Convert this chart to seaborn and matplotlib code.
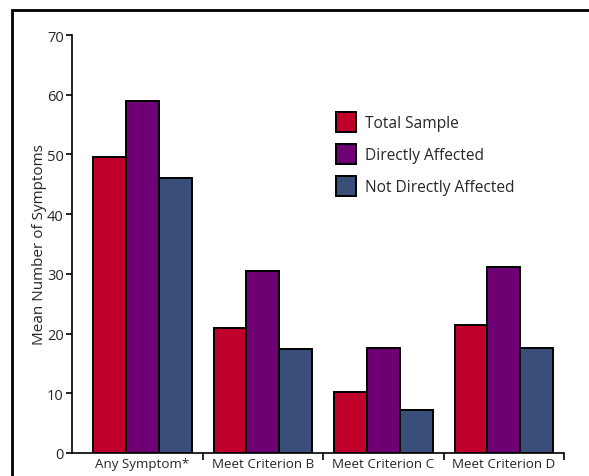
import matplotlib
matplotlib.use("Agg")
import matplotlib.pyplot as plt
import seaborn as sns
import pandas as pd
from matplotlib.patches import Rectangle, Patch

categories = ["Any Symptom*", "Meet Criterion B", "Meet Criterion C", "Meet Criterion D"]
groups = ["Total Sample", "Directly Affected", "Not Directly Affected"]
total_sample = [49.5, 20.9, 10.2, 21.4]
directly_affected = [58.9, 30.4, 17.6, 31.2]
not_directly_affected = [46.1, 17.4, 7.2, 17.6]
y_ticks = [0, 10, 20, 30, 40, 50, 60, 70]

colors = ["#C0002A", "#6E0074", "#3A4E7A"]

rows = []
for g, vals in zip(groups, [total_sample, directly_affected, not_directly_affected]):
    for c, v in zip(categories, vals):
        rows.append({"category": c, "group": g, "value": v})
df = pd.DataFrame(rows)

sns.set_style("white")
plt.rcParams["font.family"] = ["Open Sans", "DejaVu Sans"]

fig = plt.figure(figsize=(5.89, 4.77), dpi=100)
ax = fig.add_axes([72 / 589, 23 / 477, 492 / 589, 418 / 477])

sns.barplot(data=df, x="category", y="value", hue="group", order=categories,
            hue_order=groups, palette=colors, width=0.817, gap=0,
            edgecolor="black", linewidth=1.4, saturation=1, ax=ax, legend=False)

ax.set_xlim(-0.585, 3.5)
ax.set_ylim(0, 70)
ax.set_yticks(y_ticks)
ax.tick_params(axis="y", direction="out", length=4, width=1.2, color="black",
               labelsize=10.5, pad=2, left=True)
ax.set_xticks(range(len(categories)))
ax.set_xticklabels(categories, fontsize=9.6)
ax.tick_params(axis="x", which="major", length=0, pad=3)
ax.set_xticks([0.5, 1.5, 2.5, 3.5], minor=True)
ax.tick_params(axis="x", which="minor", direction="out", length=5, width=1.2,
               color="black", bottom=True)
ax.set_xlabel("")
ax.set_ylabel("Mean Number of Symptoms", fontsize=11, labelpad=0)

for side in ["top", "right"]:
    ax.spines[side].set_visible(False)
for side in ["left", "bottom"]:
    ax.spines[side].set_color("black")
    ax.spines[side].set_linewidth(1.2)

handles = [Patch(facecolor=c, edgecolor="black", linewidth=1.4) for c in colors]
ax.legend(handles, groups, loc="upper left", bbox_to_anchor=(0.537, 0.815),
          frameon=False, fontsize=11.2, handlelength=1.3, handleheight=1.55,
          labelspacing=0.8, handletextpad=0.55, borderpad=0, borderaxespad=0)

# outer frame around the figure
fig.patches.append(Rectangle((12 / 589, -0.2), 1.2, 1 - 11 / 477 + 0.2,
                             transform=fig.transFigure, fill=False,
                             edgecolor="black", linewidth=2.0))

fig.savefig("out.png", dpi=100)
